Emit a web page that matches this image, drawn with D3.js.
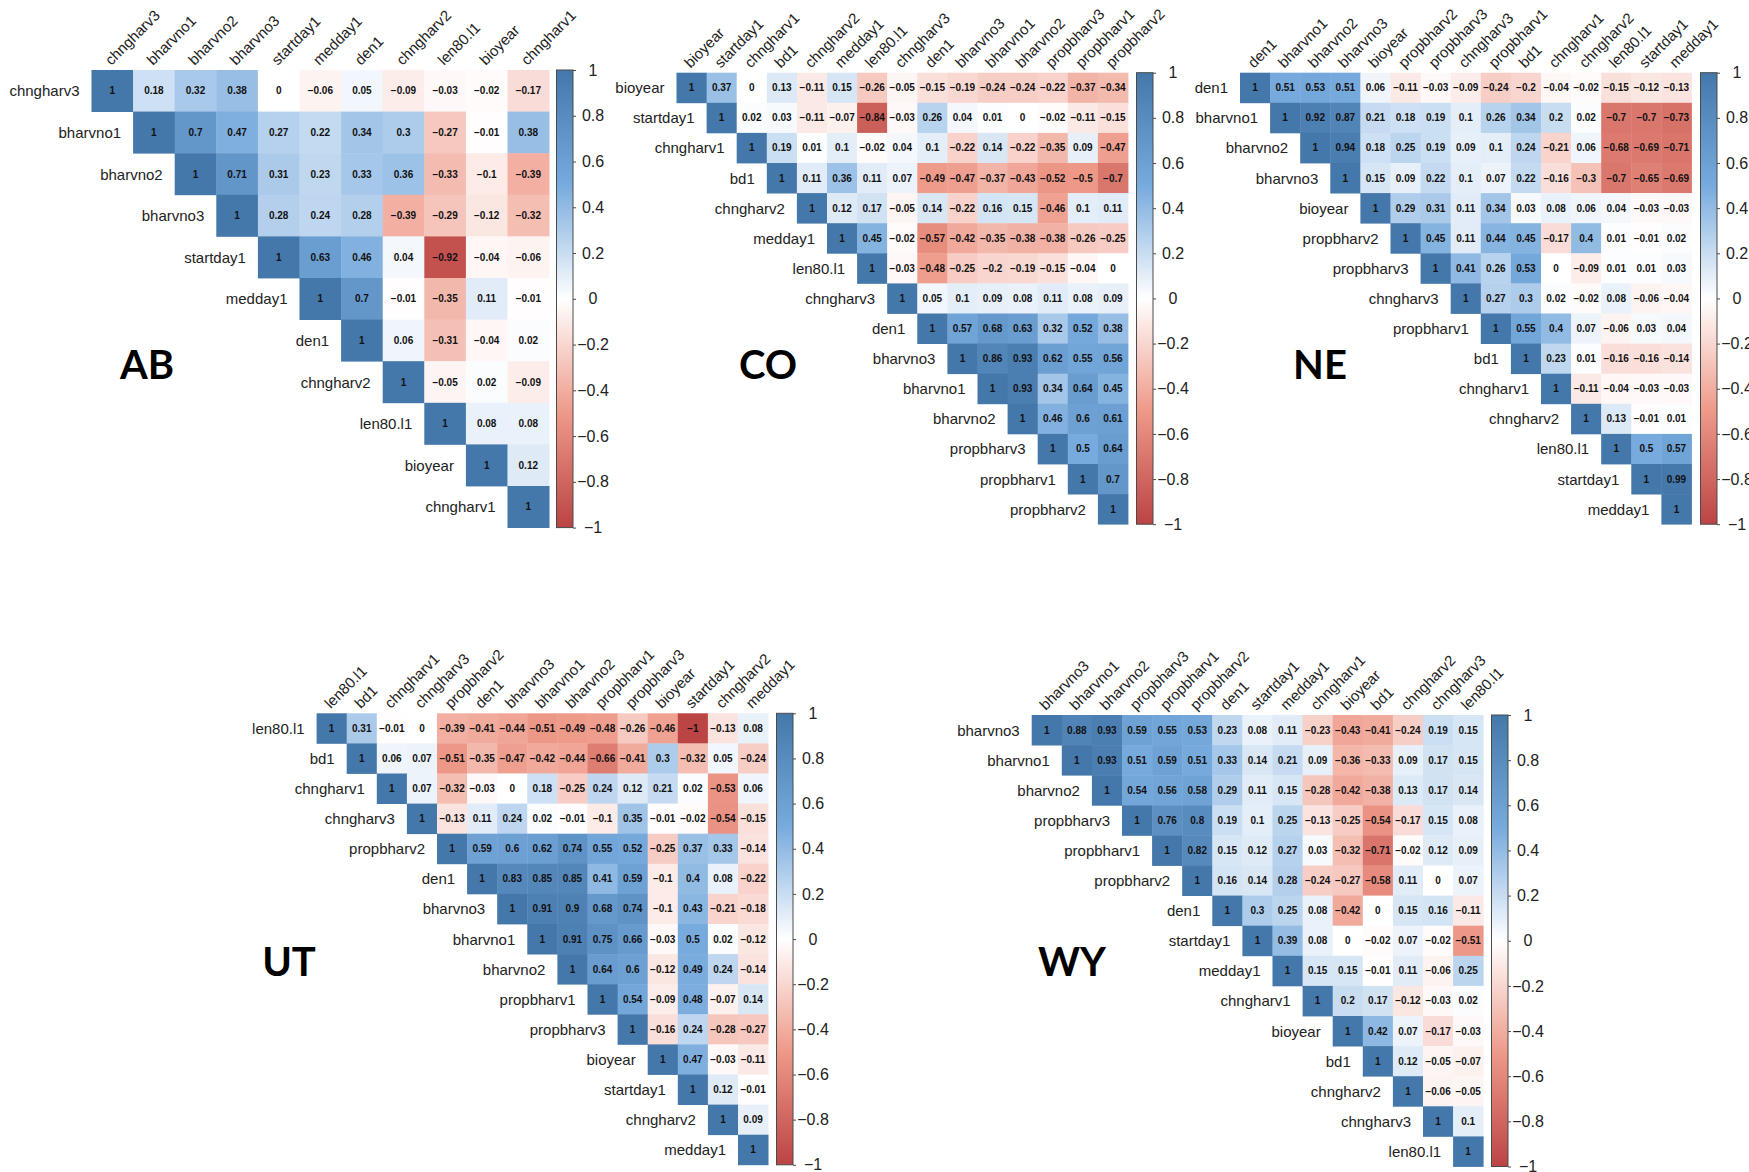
<!DOCTYPE html>
<html>
<head>
<meta charset="utf-8">
<script src="https://cdn.jsdelivr.net/npm/d3@7"></script>
<style>
  body { margin: 0; background: #fff; }
  svg { display: block; }
</style>
</head>
<body>
<svg id="chart" width="1749" height="1172"></svg>
<script>
// upper triangle of each correlation matrix, row i starts at the diagonal
const abLabels = ["chngharv3","bharvno1","bharvno2","bharvno3","startday1","medday1","den1","chngharv2","len80.l1","bioyear","chngharv1"];
const abValues = [
  [1,0.18,0.32,0.38,0,-0.06,0.05,-0.09,-0.03,-0.02,-0.17],
  [1,0.7,0.47,0.27,0.22,0.34,0.3,-0.27,-0.01,0.38],
  [1,0.71,0.31,0.23,0.33,0.36,-0.33,-0.1,-0.39],
  [1,0.28,0.24,0.28,-0.39,-0.29,-0.12,-0.32],
  [1,0.63,0.46,0.04,-0.92,-0.04,-0.06],
  [1,0.7,-0.01,-0.35,0.11,-0.01],
  [1,0.06,-0.31,-0.04,0.02],
  [1,-0.05,0.02,-0.09],
  [1,0.08,0.08],
  [1,0.12],
  [1]
];

const coLabels = ["bioyear","startday1","chngharv1","bd1","chngharv2","medday1","len80.l1","chngharv3","den1","bharvno3","bharvno1","bharvno2","propbharv3","propbharv1","propbharv2"];
const coValues = [
  [1,0.37,0,0.13,-0.11,0.15,-0.26,-0.05,-0.15,-0.19,-0.24,-0.24,-0.22,-0.37,-0.34],
  [1,0.02,0.03,-0.11,-0.07,-0.84,-0.03,0.26,0.04,0.01,0,-0.02,-0.11,-0.15],
  [1,0.19,0.01,0.1,-0.02,0.04,0.1,-0.22,0.14,-0.22,-0.35,0.09,-0.47],
  [1,0.11,0.36,0.11,0.07,-0.49,-0.47,-0.37,-0.43,-0.52,-0.5,-0.7],
  [1,0.12,0.17,-0.05,0.14,-0.22,0.16,0.15,-0.46,0.1,0.11],
  [1,0.45,-0.02,-0.57,-0.42,-0.35,-0.38,-0.38,-0.26,-0.25],
  [1,-0.03,-0.48,-0.25,-0.2,-0.19,-0.15,-0.04,0],
  [1,0.05,0.1,0.09,0.08,0.11,0.08,0.09],
  [1,0.57,0.68,0.63,0.32,0.52,0.38],
  [1,0.86,0.93,0.62,0.55,0.56],
  [1,0.93,0.34,0.64,0.45],
  [1,0.46,0.6,0.61],
  [1,0.5,0.64],
  [1,0.7],
  [1]
];

const neLabels = ["den1","bharvno1","bharvno2","bharvno3","bioyear","propbharv2","propbharv3","chngharv3","propbharv1","bd1","chngharv1","chngharv2","len80.l1","startday1","medday1"];
const neValues = [
  [1,0.51,0.53,0.51,0.06,-0.11,-0.03,-0.09,-0.24,-0.2,-0.04,-0.02,-0.15,-0.12,-0.13],
  [1,0.92,0.87,0.21,0.18,0.19,0.1,0.26,0.34,0.2,0.02,-0.7,-0.7,-0.73],
  [1,0.94,0.18,0.25,0.19,0.09,0.1,0.24,-0.21,0.06,-0.68,-0.69,-0.71],
  [1,0.15,0.09,0.22,0.1,0.07,0.22,-0.16,-0.3,-0.7,-0.65,-0.69],
  [1,0.29,0.31,0.11,0.34,0.03,0.08,0.06,0.04,-0.03,-0.03],
  [1,0.45,0.11,0.44,0.45,-0.17,0.4,0.01,-0.01,0.02],
  [1,0.41,0.26,0.53,0,-0.09,0.01,0.01,0.03],
  [1,0.27,0.3,0.02,-0.02,0.08,-0.06,-0.04],
  [1,0.55,0.4,0.07,-0.06,0.03,0.04],
  [1,0.23,0.01,-0.16,-0.16,-0.14],
  [1,-0.11,-0.04,-0.03,-0.03],
  [1,0.13,-0.01,0.01],
  [1,0.5,0.57],
  [1,0.99],
  [1]
];

const utLabels = ["len80.l1","bd1","chngharv1","chngharv3","propbharv2","den1","bharvno3","bharvno1","bharvno2","propbharv1","propbharv3","bioyear","startday1","chngharv2","medday1"];
const utValues = [
  [1,0.31,-0.01,0,-0.39,-0.41,-0.44,-0.51,-0.49,-0.48,-0.26,-0.46,-1,-0.13,0.08],
  [1,0.06,0.07,-0.51,-0.35,-0.47,-0.42,-0.44,-0.66,-0.41,0.3,-0.32,0.05,-0.24],
  [1,0.07,-0.32,-0.03,0,0.18,-0.25,0.24,0.12,0.21,0.02,-0.53,0.06],
  [1,-0.13,0.11,0.24,0.02,-0.01,-0.1,0.35,-0.01,-0.02,-0.54,-0.15],
  [1,0.59,0.6,0.62,0.74,0.55,0.52,-0.25,0.37,0.33,-0.14],
  [1,0.83,0.85,0.85,0.41,0.59,-0.1,0.4,0.08,-0.22],
  [1,0.91,0.9,0.68,0.74,-0.1,0.43,-0.21,-0.18],
  [1,0.91,0.75,0.66,-0.03,0.5,0.02,-0.12],
  [1,0.64,0.6,-0.12,0.49,0.24,-0.14],
  [1,0.54,-0.09,0.48,-0.07,0.14],
  [1,-0.16,0.24,-0.28,-0.27],
  [1,0.47,-0.03,-0.11],
  [1,0.12,-0.01],
  [1,0.09],
  [1]
];

const wyLabels = ["bharvno3","bharvno1","bharvno2","propbharv3","propbharv1","propbharv2","den1","startday1","medday1","chngharv1","bioyear","bd1","chngharv2","chngharv3","len80.l1"];
const wyValues = [
  [1,0.88,0.93,0.59,0.55,0.53,0.23,0.08,0.11,-0.23,-0.43,-0.41,-0.24,0.19,0.15],
  [1,0.93,0.51,0.59,0.51,0.33,0.14,0.21,0.09,-0.36,-0.33,0.09,0.17,0.15],
  [1,0.54,0.56,0.58,0.29,0.11,0.15,-0.28,-0.42,-0.38,0.13,0.17,0.14],
  [1,0.76,0.8,0.19,0.1,0.25,-0.13,-0.25,-0.54,-0.17,0.15,0.08],
  [1,0.82,0.15,0.12,0.27,0.03,-0.32,-0.71,-0.02,0.12,0.09],
  [1,0.16,0.14,0.28,-0.24,-0.27,-0.58,0.11,0,0.07],
  [1,0.3,0.25,0.08,-0.42,0,0.15,0.16,-0.11],
  [1,0.39,0.08,0,-0.02,0.07,-0.02,-0.51],
  [1,0.15,0.15,-0.01,0.11,-0.06,0.25],
  [1,0.2,0.17,-0.12,-0.03,0.02],
  [1,0.42,0.07,-0.17,-0.03],
  [1,0.12,-0.05,-0.07],
  [1,-0.06,-0.05],
  [1,0.1],
  [1]
];

const colorDomain = [-1, -0.5, 0, 0.5, 1];
const colorRange = ["#BB4444", "#EE9988", "#FFFFFF", "#77AADD", "#4477AA"];
const legendTicks = [1, 0.8, 0.6, 0.4, 0.2, 0, -0.2, -0.4, -0.6, -0.8, -1];

const color = d3.scaleLinear().domain(colorDomain).range(colorRange);
const fmt = v => String(v).replace("-", "\u2212");

const panels = [
  {title: "AB", labels: abLabels, values: abValues, left: 91.5, top: 70, cell: 41.6, barX: 556.5, titleX: 147, titleY: 379},
  {title: "CO", labels: coLabels, values: coValues, left: 676.5, top: 72.7, cell: 30.1, barX: 1136.5, titleX: 768, titleY: 379},
  {title: "NE", labels: neLabels, values: neValues, left: 1240, top: 72.7, cell: 30.1, barX: 1700.5, titleX: 1320, titleY: 379, bgX: 1192},
  {title: "UT", labels: utLabels, values: utValues, left: 316.6, top: 713.3, cell: 30.1, barX: 776.5, titleX: 289, titleY: 976},
  {title: "WY", labels: wyLabels, values: wyValues, left: 1031.7, top: 715, cell: 30.1, barX: 1491.5, titleX: 1072, titleY: 976}
];

const svg = d3.select("#chart");

// shared gradient for the colour bars
const grad = svg.append("defs").append("linearGradient")
  .attr("id", "corrGrad").attr("x1", 0).attr("y1", 0).attr("x2", 0).attr("y2", 1);
grad.selectAll("stop").data(colorDomain.slice().reverse()).join("stop")
  .attr("offset", (d, i) => (i / (colorDomain.length - 1) * 100) + "%")
  .attr("stop-color", d => color(d));

panels.forEach(p => {
  const n = p.labels.length;
  const g = svg.append("g");

  if (p.bgX !== undefined) {
    g.append("rect").attr("x", p.bgX).attr("y", 0)
      .attr("width", 1749 - p.bgX).attr("height", 560).attr("fill", "#fff");
  }

  const x = d3.scaleBand().domain(p.labels).range([p.left, p.left + n * p.cell]);
  const y = d3.scaleBand().domain(p.labels).range([p.top, p.top + n * p.cell]);

  const cells = [];
  p.values.forEach((row, i) => row.forEach((v, k) => {
    cells.push({r: p.labels[i], c: p.labels[i + k], v: v});
  }));

  g.selectAll(".cell").data(cells).join("rect")
    .attr("x", d => x(d.c)).attr("y", d => y(d.r))
    .attr("width", x.bandwidth() + 0.4).attr("height", y.bandwidth() + 0.4)
    .attr("fill", d => color(d.v));

  g.selectAll(".val").data(cells).join("text")
    .attr("x", d => x(d.c) + x.bandwidth() / 2)
    .attr("y", d => y(d.r) + y.bandwidth() / 2)
    .attr("text-anchor", "middle").attr("dominant-baseline", "central")
    .attr("font-family", "Liberation Sans, Arial, sans-serif")
    .attr("font-weight", "bold").attr("font-size", "10px").attr("fill", "#111")
    .text(d => fmt(d.v));

  // row labels, right-aligned left of the diagonal
  g.selectAll(".rowLabel").data(p.labels).join("text")
    .attr("x", d => x(d) - 12)
    .attr("y", d => y(d) + y.bandwidth() / 2)
    .attr("text-anchor", "end").attr("dominant-baseline", "central")
    .attr("font-family", "Liberation Sans, Arial, sans-serif")
    .attr("font-size", "15px").attr("fill", "#222")
    .text(d => d);

  // column labels, rotated 45 degrees
  g.selectAll(".colLabel").data(p.labels).join("text")
    .attr("transform", d => "translate(" + (x(d) + x.bandwidth() / 2 - 1) + "," + (p.top - 4) + ") rotate(-45)")
    .attr("text-anchor", "start")
    .attr("font-family", "Liberation Sans, Arial, sans-serif")
    .attr("font-size", "15px").attr("fill", "#222")
    .text(d => d);

  // colour bar
  const barW = 16.5;
  const barBottom = p.top + n * p.cell;
  g.append("rect").attr("x", p.barX).attr("y", p.top)
    .attr("width", barW).attr("height", barBottom - p.top)
    .attr("fill", "url(#corrGrad)").attr("stroke", "#4a4a4a").attr("stroke-width", 1);

  const barScale = d3.scaleLinear().domain([1, -1]).range([p.top, barBottom]);
  const axis = g.append("g")
    .attr("transform", "translate(" + (p.barX + barW) + ",0)")
    .call(d3.axisRight(barScale).tickValues(legendTicks).tickSize(3).tickFormat(fmt));
  axis.select(".domain").remove();
  axis.selectAll(".tick line").attr("stroke", "#4a4a4a");
  axis.selectAll(".tick text")
    .attr("x", 20).attr("text-anchor", "middle")
    .attr("font-family", "Liberation Sans, Arial, sans-serif")
    .attr("font-size", "16px").attr("fill", "#222");

  g.append("text")
    .attr("x", p.titleX).attr("y", p.titleY)
    .attr("text-anchor", "middle")
    .attr("font-family", "Lato, Open Sans, sans-serif")
    .attr("font-weight", "bold").attr("font-size", "40px").attr("fill", "#000")
    .text(p.title);
});
</script>
</body>
</html>
